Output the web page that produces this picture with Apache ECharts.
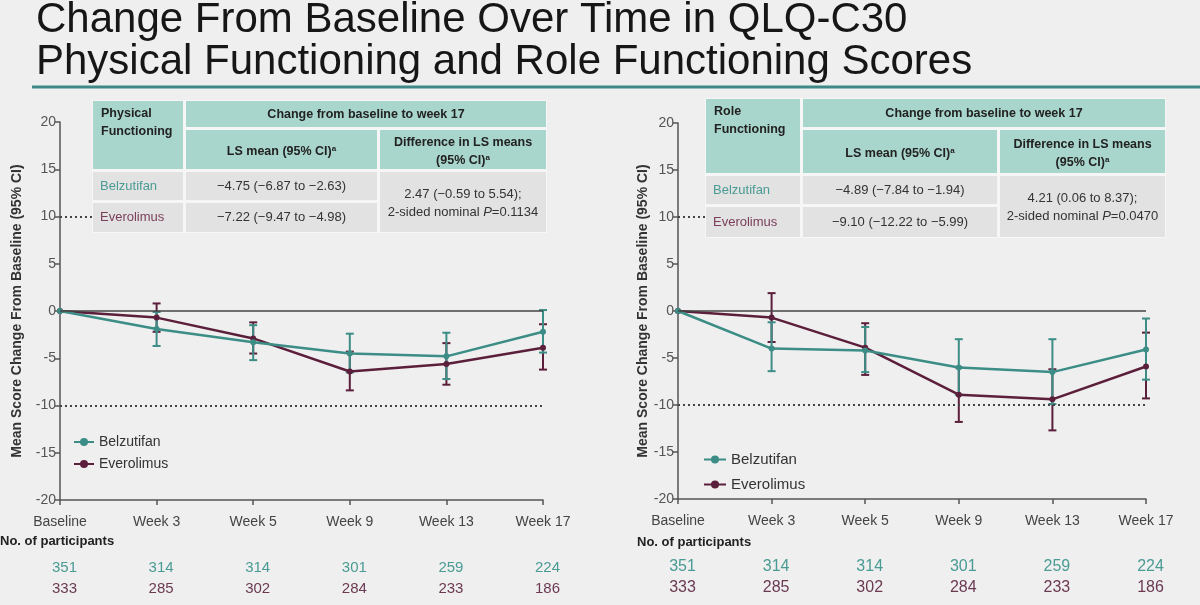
<!DOCTYPE html>
<html><head><meta charset="utf-8">
<script src="https://cdn.jsdelivr.net/npm/echarts@6/dist/echarts.min.js"></script>
<style>html,body{margin:0;padding:0;background:#efefef;} #c{width:1200px;height:605px;}</style>
</head><body><div id="c"></div>
<script>
// ---------- DATA ----------
const categories = ['Baseline', 'Week 3', 'Week 5', 'Week 9', 'Week 13', 'Week 17'];
const yTicks = [-20, -15, -10, -5, 0, 5, 10, 15, 20];

// Physical functioning
const pfBelzMean = [0, -1.9, -3.3, -4.5, -4.8, -2.2];
const pfBelzLow  = [0, -3.7, -5.2, -6.5, -7.2, -4.4];
const pfBelzHigh = [0, -0.1, -1.5, -2.4, -2.3, 0.1];
const pfEverMean = [0, -0.7, -2.9, -6.4, -5.6, -3.9];
const pfEverLow  = [0, -2.2, -4.5, -8.4, -7.8, -6.2];
const pfEverHigh = [0, 0.8, -1.2, -4.3, -3.4, -1.4];

// Role functioning
const rfBelzMean = [0, -4.0, -4.2, -6.0, -6.5, -4.1];
const rfBelzLow  = [0, -6.4, -6.5, -8.9, -9.9, -7.3];
const rfBelzHigh = [0, -1.2, -1.7, -3.0, -3.0, -0.8];
const rfEverMean = [0, -0.7, -3.9, -8.9, -9.4, -5.9];
const rfEverLow  = [0, -3.3, -6.8, -11.8, -12.7, -9.3];
const rfEverHigh = [0, 1.9, -1.3, -6.0, -6.2, -2.3];

// Number of participants
const nBelz = [351, 314, 314, 301, 259, 224];
const nEver = [333, 285, 302, 284, 233, 186];

// Table texts
const seriesNames = ['Belzutifan', 'Everolimus'];
const pfTitle = ['Physical', 'Functioning'];
const rfTitle = ['Role', 'Functioning'];
const headerTop = 'Change from baseline to week 17';
const headerLs = 'LS mean (95% CI)';
const headerDiff = ['Difference in LS means', '(95% CI)'];
const pfLs = ['\u22124.75 (\u22126.87 to \u22122.63)', '\u22127.22 (\u22129.47 to \u22124.98)'];
const pfDiff = ['2.47 (\u22120.59 to 5.54);', '0.1134'];
const rfLs = ['\u22124.89 (\u22127.84 to \u22121.94)', '\u22129.10 (\u221212.22 to \u22125.99)'];
const rfDiff = ['4.21 (0.06 to 8.37);', '0.0470'];

// ---------- STYLE ----------
const FONT = '"Liberation Sans", Arial, Helvetica, sans-serif';
const TEAL = '#3b8d86';
const MAROON = '#5b1f3b';
const AXIS = '#555';
const HEAD = '#a9d6cc';
const CELL = '#e2e2e2';

const chart = echarts.init(document.getElementById('c'));

function lineSeries(name, color, idx, data) {
  return {
    type: 'line', name, xAxisIndex: idx, yAxisIndex: idx, data,
    symbol: 'circle', symbolSize: 6, z: 4,
    lineStyle: { color, width: 2.5 }, itemStyle: { color },
    emphasis: { disabled: true }
  };
}
function errSeries(name, color, idx, low, high) {
  return {
    type: 'custom', name, xAxisIndex: idx, yAxisIndex: idx, z: 3,
    data: low.map((l, i) => [i, l, high[i]]).slice(1),
    encode: { x: 0, y: [1, 2] },
    renderItem: (params, api) => {
      const x = api.value(0);
      const lo = api.coord([x, api.value(1)]);
      const hi = api.coord([x, api.value(2)]);
      const w = 4;
      const st = { stroke: color, lineWidth: 2 };
      return { type: 'group', children: [
        { type: 'line', shape: { x1: lo[0], y1: lo[1], x2: hi[0], y2: hi[1] }, style: st },
        { type: 'line', shape: { x1: lo[0] - w, y1: lo[1], x2: lo[0] + w, y2: lo[1] }, style: st },
        { type: 'line', shape: { x1: hi[0] - w, y1: hi[1], x2: hi[0] + w, y2: hi[1] }, style: st }
      ]};
    }
  };
}
function refLines() {
  return {
    silent: true, symbol: 'none', label: { show: false },
    data: [
      { yAxis: 0, lineStyle: { type: 'solid', color: '#444', width: 1.5 } },
      { yAxis: 10, lineStyle: { type: [2, 3], color: '#444', width: 2 } },
      { yAxis: -10, lineStyle: { type: [2, 3], color: '#444', width: 2 } }
    ]
  };
}
function yAxis(gi, gap) {
  return {
    type: 'value', gridIndex: gi, min: -20, max: 20, interval: 5,
    name: 'Mean Score Change From Baseline (95% CI)', nameLocation: 'middle', nameGap: gap,
    nameRotate: 90,
    nameTextStyle: { fontSize: 14, fontWeight: 'bold', color: '#333', fontFamily: FONT },
    axisLine: { show: true, lineStyle: { color: AXIS, width: 1.5 } },
    axisTick: { show: true, length: 5, lineStyle: { color: AXIS, width: 1.5 } },
    axisLabel: { color: '#555', fontSize: 14, margin: 4, fontFamily: FONT,
      formatter: v => yTicks.includes(v) ? String(v) : '' },
    splitLine: { show: false }
  };
}
function xAxis(gi) {
  return {
    type: 'category', gridIndex: gi, data: categories, boundaryGap: false,
    axisLine: { show: true, onZero: false, lineStyle: { color: AXIS, width: 1.5 } },
    axisTick: { show: true, length: 5, alignWithLabel: true, lineStyle: { color: AXIS, width: 1.5 } },
    axisLabel: { color: '#444', fontSize: 14, margin: 15, interval: 0, fontFamily: FONT }
  };
}
function nAxis(gi, fs) {
  return {
    type: 'category', gridIndex: gi, data: categories, boundaryGap: false, position: 'bottom',
    axisLine: { show: false }, axisTick: { show: false },
    axisLabel: {
      interval: 0, margin: 57, padding: [0, 0, 0, 9], fontFamily: FONT,
      formatter: (v, i) => '{a|' + nBelz[i] + '}\n{b|' + nEver[i] + '}',
      rich: {
        a: { color: '#4a9b94', fontSize: fs, lineHeight: 21, fontFamily: FONT },
        b: { color: '#6b3a52', fontSize: fs, lineHeight: 21, fontFamily: FONT }
      }
    }
  };
}

// ---------- TABLE via graphic ----------
function table(cols, rows, title, ls, diff) {
  const els = [];
  const rect = (x1, y1, x2, y2, fill) => els.push({ type: 'rect', z: 100,
    shape: { x: x1, y: y1, width: x2 - x1, height: y2 - y1 }, style: { fill } });
  const txt = (tx, ty, text, opt) => els.push({ type: 'text', z: 101, x: tx, y: ty,
    style: Object.assign({ text, font: '13px ' + FONT, fill: '#222', align: 'center', verticalAlign: 'middle' }, opt || {}) });
  const g = 3;
  const [c0, c1, c2, c3] = cols;
  const [r0, r1, r2, r3, r4] = rows;
  rect(c0 - 1, r0 - 1, c3 + 1, r4 + 1, '#f5f6f5');
  rect(c0, r0, c1, r2 - g, HEAD);
  rect(c1 + g, r0, c3, r1, HEAD);
  rect(c1 + g, r1 + g, c2, r2 - g, HEAD);
  rect(c2 + g, r1 + g, c3, r2 - g, HEAD);
  rect(c0, r2, c1, r3, CELL);
  rect(c0, r3 + g, c1, r4, CELL);
  rect(c1 + g, r2, c2, r3, CELL);
  rect(c1 + g, r3 + g, c2, r4, CELL);
  rect(c2 + g, r2, c3, r4, CELL);
  const bold = 'bold 12.5px ' + FONT;
  txt(c0 + 8, r0 + 13, title[0], { align: 'left', font: bold });
  txt(c0 + 8, r0 + 31, title[1], { align: 'left', font: bold });
  txt((c1 + g + c3) / 2, (r0 + r1) / 2 + 1, headerTop, { font: bold });
  els.push({ type: 'text', z: 101, x: (c1 + g + c2) / 2, y: (r1 + r2) / 2 + 2,
    style: { text: '{t|' + headerLs + '}{s|a}', align: 'center', verticalAlign: 'middle',
      rich: { t: { font: bold, fill: '#222' }, s: { font: 'bold 8px ' + FONT, fill: '#222', verticalAlign: 'top', lineHeight: 10 } } } });
  txt((c2 + g + c3) / 2, (r1 + r2) / 2 - 7, headerDiff[0], { font: bold });
  els.push({ type: 'text', z: 101, x: (c2 + g + c3) / 2, y: (r1 + r2) / 2 + 11,
    style: { text: '{t|' + headerDiff[1] + '}{s|a}', align: 'center', verticalAlign: 'middle',
      rich: { t: { font: bold, fill: '#222' }, s: { font: 'bold 8px ' + FONT, fill: '#222', verticalAlign: 'top', lineHeight: 10 } } } });
  txt(c0 + 7, (r2 + r3) / 2, seriesNames[0], { align: 'left', fill: '#4a9b94', font: '13px ' + FONT });
  txt(c0 + 7, (r3 + g + r4) / 2, seriesNames[1], { align: 'left', fill: '#7a3e5a', font: '13px ' + FONT });
  txt((c1 + g + c2) / 2, (r2 + r3) / 2, ls[0], { fill: '#333' });
  txt((c1 + g + c2) / 2, (r3 + g + r4) / 2, ls[1], { fill: '#333' });
  const mid = (c2 + g + c3) / 2, my = (r2 + r4) / 2;
  txt(mid, my - 8, diff[0], { fill: '#333' });
  els.push({ type: 'text', z: 101, x: mid, y: my + 10,
    style: { text: '{t|2-sided nominal }{i|P}{t|=' + diff[1] + '}', align: 'center', verticalAlign: 'middle',
      rich: { t: { font: '13px ' + FONT, fill: '#333' }, i: { font: 'italic 13px ' + FONT, fill: '#333' } } } });
  return els;
}

const graphics = [
  { type: 'line', z: 100, shape: { x1: 32, y1: 87, x2: 1200, y2: 87 }, style: { stroke: '#3f8a86', lineWidth: 3 } },
  { type: 'text', z: 101, x: 0, y: 541, style: { text: 'No. of participants', font: 'bold 13px ' + FONT, fill: '#222', verticalAlign: 'middle' } },
  { type: 'text', z: 101, x: 637, y: 542, style: { text: 'No. of participants', font: 'bold 13px ' + FONT, fill: '#222', verticalAlign: 'middle' } }
].concat(
  table([93, 183, 377, 546], [101, 127, 172, 200, 232], pfTitle, pfLs, pfDiff),
  table([706, 800, 997, 1165], [99, 127, 176, 204, 237], rfTitle, rfLs, rfDiff)
);

const option = {
  backgroundColor: '#efefef',
  animation: false,
  textStyle: { fontFamily: FONT },
  title: {
    text: 'Change From Baseline Over Time in QLQ-C30\nPhysical Functioning and Role Functioning Scores',
    left: 31, top: -6,
    textStyle: { fontSize: 42, fontWeight: 'normal', color: '#161616', lineHeight: 42, fontFamily: FONT }
  },
  legend: [
    { data: seriesNames, orient: 'vertical', left: 68, top: 430, itemGap: 8, itemWidth: 20, itemHeight: 10,
      textStyle: { fontSize: 14, color: '#333', fontFamily: FONT } },
    { data: seriesNames, orient: 'vertical', left: 698, top: 447, itemGap: 10, itemWidth: 22, itemHeight: 10,
      textStyle: { fontSize: 15, color: '#333', fontFamily: FONT } }
  ],
  grid: [
    { left: 60, top: 122, width: 483, height: 378 },
    { left: 678, top: 123, width: 468, height: 376 }
  ],
  xAxis: [xAxis(0), xAxis(1), nAxis(0, 15), nAxis(1, 16)],
  yAxis: [yAxis(0, 36), yAxis(1, 27)],
  graphic: graphics,
  series: [
    Object.assign(lineSeries(seriesNames[1], MAROON, 0, pfEverMean), { markLine: refLines() }),
    errSeries('pfEverCI', MAROON, 0, pfEverLow, pfEverHigh),
    lineSeries(seriesNames[0], TEAL, 0, pfBelzMean),
    errSeries('pfBelzCI', TEAL, 0, pfBelzLow, pfBelzHigh),
    Object.assign(lineSeries(seriesNames[1], MAROON, 1, rfEverMean), { markLine: refLines() }),
    errSeries('rfEverCI', MAROON, 1, rfEverLow, rfEverHigh),
    lineSeries(seriesNames[0], TEAL, 1, rfBelzMean),
    errSeries('rfBelzCI', TEAL, 1, rfBelzLow, rfBelzHigh)
  ]
};
chart.setOption(option);
</script></body></html>
